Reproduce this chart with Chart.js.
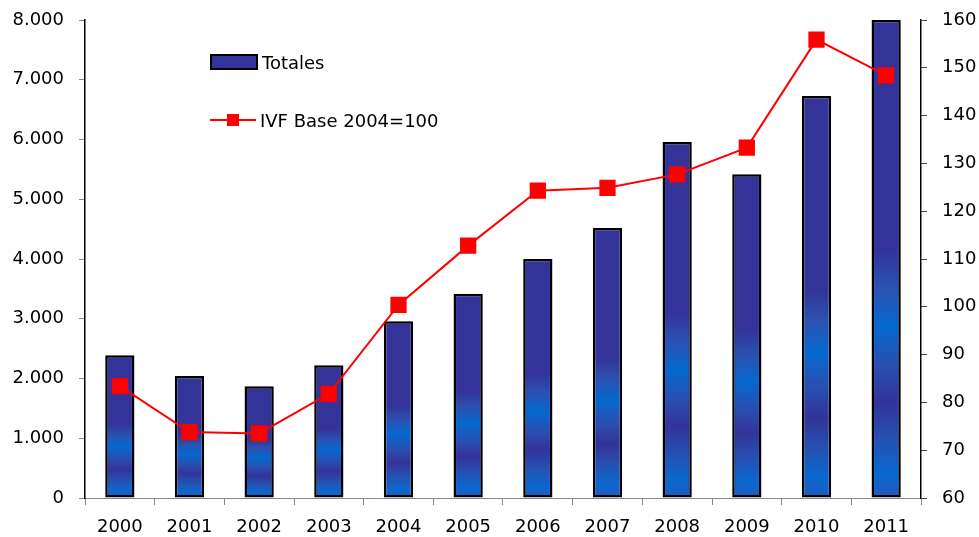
<!DOCTYPE html>
<html>
<head>
<meta charset="utf-8">
<script src="https://cdn.jsdelivr.net/npm/chart.js@4/dist/chart.umd.min.js"></script>
<style>
    body { margin: 0; background: #fff; }
    #wrap { position: relative; width: 979px; height: 537px; }
    #leyenda { position: absolute; left: 210px; top: 48px; font: 18px "DejaVu Sans", sans-serif; color: #000; }
    .item { display: flex; align-items: center; height: 28px; }
    .item + .item { margin-top: 30px; }
    .caja { width: 44px; height: 12px; background: #333399; border: 2px solid #000; margin-right: 4px; }
    .linea { position: relative; width: 46px; height: 2px; background: #ff0000; margin-right: 4px; }
    .linea span { position: absolute; left: 17px; top: -5px; width: 12px; height: 12px; background: #ff0000; }
</style>
</head>
<body>
<div id="wrap">
    <canvas id="grafico" width="979" height="537"></canvas>
    <div id="leyenda"></div>
</div>
<script>
// ========== DATOS ==========
const anios = ['2000', '2001', '2002', '2003', '2004', '2005', '2006', '2007', '2008', '2009', '2010', '2011'];
const totales = [2390, 2040, 1870, 2220, 2960, 3420, 4000, 4520, 5960, 5420, 6730, 8000];
const ivf = [83.4, 73.8, 73.5, 81.8, 100.4, 112.8, 124.3, 124.9, 127.7, 133.3, 155.9, 148.4];
const etiquetaTotales = 'Totales';
const etiquetaIvf = 'IVF Base 2004=100';

const FUENTE = '"DejaVu Sans", sans-serif';

// Degradado tipo Excel dentro de cada barra
function degradadoBarra(context) {
    const chart = context.chart;
    if (!chart.chartArea || !chart.scales.y) return '#333399';
    const y = chart.scales.y;
    const valor = totales[context.dataIndex];
    const base = y.getPixelForValue(0);
    const tope = y.getPixelForValue(valor);
    const g = chart.ctx.createLinearGradient(0, base, 0, tope);
    g.addColorStop(0, '#2458bd');
    g.addColorStop(0.05, '#0a68cf');
    g.addColorStop(0.12, '#2452b4');
    g.addColorStop(0.2, '#333399');
    g.addColorStop(0.28, '#2850b2');
    g.addColorStop(0.36, '#0568cf');
    g.addColorStop(0.44, '#2a52b2');
    g.addColorStop(0.52, '#333399');
    g.addColorStop(1, '#333399');
    return g;
}

function formatoMiles(v) {
    return v.toLocaleString('de-DE');
}

// Ancho/alto fijo de cada eje, sin relleno extra
function fijarEje(medida, valor) {
    return function(scale) {
        scale[medida] = valor;
        scale.paddingTop = 0;
        scale.paddingBottom = 0;
        scale.paddingLeft = 0;
        scale.paddingRight = 0;
    };
}

// ========== GRÁFICO ==========
document.addEventListener('DOMContentLoaded', function() {
    const ctx = document.getElementById('grafico').getContext('2d');

    new Chart(ctx, {
        type: 'bar',
        data: {
            labels: anios,
            datasets: [{
                type: 'line',
                label: etiquetaIvf,
                data: ivf,
                yAxisID: 'y1',
                borderColor: '#ff0000',
                backgroundColor: '#ff0000',
                borderWidth: 2,
                pointStyle: 'rect',
                pointRadius: 11.5,
                pointBorderWidth: 0,
                tension: 0,
                order: 0
            }, {
                type: 'bar',
                label: etiquetaTotales,
                data: totales,
                yAxisID: 'y',
                backgroundColor: degradadoBarra,
                borderColor: '#000',
                borderWidth: 2.5,
                borderSkipped: false,
                barPercentage: 0.42,
                categoryPercentage: 1,
                order: 1
            }]
        },
        options: {
            responsive: false,
            animation: false,
            layout: { padding: { top: 20, left: 0, right: 0, bottom: 0 } },
            plugins: {
                legend: { display: false },
                tooltip: { enabled: false }
            },
            scales: {
                x: {
                    offset: true,
                    grid: { offset: true, drawOnChartArea: false, tickLength: 7, color: '#888' },
                    border: { display: true, color: '#888', width: 1 },
                    ticks: { color: '#000', font: { family: FUENTE, size: 18 }, padding: 12 },
                    afterFit: fijarEje('height', 39)
                },
                y: {
                    position: 'left',
                    min: 0,
                    max: 8000,
                    grid: { drawOnChartArea: false, tickLength: 6, color: '#888' },
                    border: { display: true, color: '#000', width: 1.5 },
                    ticks: {
                        stepSize: 1000,
                        color: '#000',
                        padding: 15,
                        font: { family: FUENTE, size: 18 },
                        callback: function(v) { return formatoMiles(v); }
                    },
                    afterFit: fijarEje('width', 85)
                },
                y1: {
                    position: 'right',
                    min: 60,
                    max: 160,
                    grid: { drawOnChartArea: false, tickLength: 6, color: '#444' },
                    border: { display: true, color: '#000', width: 1.5 },
                    ticks: {
                        stepSize: 10,
                        color: '#000',
                        padding: 15,
                        font: { family: FUENTE, size: 18 }
                    },
                    afterFit: fijarEje('width', 58)
                }
            }
        }
    });

    // Leyenda en HTML
    const leyenda = document.getElementById('leyenda');
    leyenda.innerHTML =
        '<div class="item"><div class="caja"></div><span>' + etiquetaTotales + '</span></div>' +
        '<div class="item"><div class="linea"><span></span></div><span>' + etiquetaIvf + '</span></div>';
});
</script>
</body>
</html>
